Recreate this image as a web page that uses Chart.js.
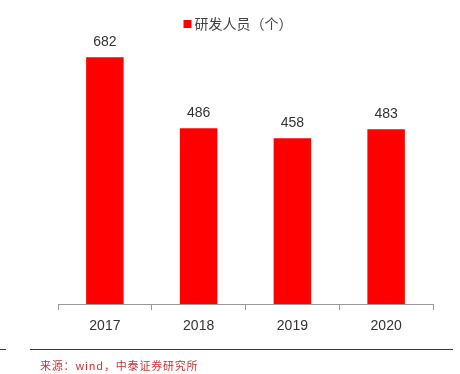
<!DOCTYPE html>
<html><head><meta charset="utf-8">
<script src="https://cdn.jsdelivr.net/npm/chart.js@4"></script>
<style>html,body{margin:0;padding:0;background:#fff}#wrap{width:460px;height:374px}</style>
</head><body><div id="wrap"><canvas id="c" width="460" height="374"></canvas></div>
<script>
const categories = ['2017','2018','2019','2020'];
const values = [682, 486, 458, 483];
const seriesName = '研发人员（个）';
const sourceText = '来源：wind，中泰证券研究所';

const extras = {
  id: 'extras',
  afterDatasetsDraw(chart) {
    const ctx = chart.ctx;
    const meta = chart.getDatasetMeta(0);
    ctx.save();
    ctx.font = '14px "Liberation Sans", sans-serif';
    ctx.fillStyle = '#333';
    ctx.textAlign = 'center';
    ctx.textBaseline = 'middle';
    meta.data.forEach((bar, i) => {
      ctx.fillText(String(values[i]), bar.x, bar.y - 15);
    });
    // legend
    ctx.font = '14px "Noto Sans CJK SC", sans-serif';
    const tw = ctx.measureText(seriesName).width;
    const total = 8 + 3 + tw;
    const cx = 238;
    const x0 = cx - total / 2;
    ctx.fillStyle = '#ff0000';
    ctx.fillRect(x0, 20, 8, 8);
    ctx.fillStyle = '#444';
    ctx.textAlign = 'left';
    ctx.fillText(seriesName, x0 + 11, 24);
    // footer
    ctx.strokeStyle = '#c00000';
    ctx.lineWidth = 1;
    ctx.beginPath();
    ctx.moveTo(0, 349.5); ctx.lineTo(6, 349.5);
    ctx.moveTo(30, 349.5); ctx.lineTo(453, 349.5);
    ctx.stroke();
    ctx.fillStyle = '#cc3333';
    ctx.font = '11px "Noto Sans CJK SC", sans-serif';
    if ('letterSpacing' in ctx) ctx.letterSpacing = '0.8px';
    ctx.fillText(sourceText, 40, 366);
    ctx.restore();
  }
};

new Chart(document.getElementById('c'), {
  type: 'bar',
  data: {
    labels: categories,
    datasets: [{
      label: seriesName,
      data: values,
      backgroundColor: '#ff0000',
      borderWidth: 0,
      categoryPercentage: 1,
      barPercentage: 0.4
    }]
  },
  options: {
    responsive: false,
    animation: false,
    layout: { padding: { left: 58, right: 27, top: 29, bottom: 30 } },
    plugins: { legend: { display: false }, tooltip: { enabled: false } },
    scales: {
      x: {
        offset: true,
        grid: { offset: true, drawOnChartArea: false, color: '#999', tickLength: 6 },
        border: { color: '#999' },
        ticks: { color: '#333', font: { size: 14, family: '"Liberation Sans", sans-serif' }, padding: 8 },
        afterFit(scale) { scale.height = 40; }
      },
      y: { display: false, min: 0, max: 760 }
    }
  },
  plugins: [extras]
});
</script></body></html>
